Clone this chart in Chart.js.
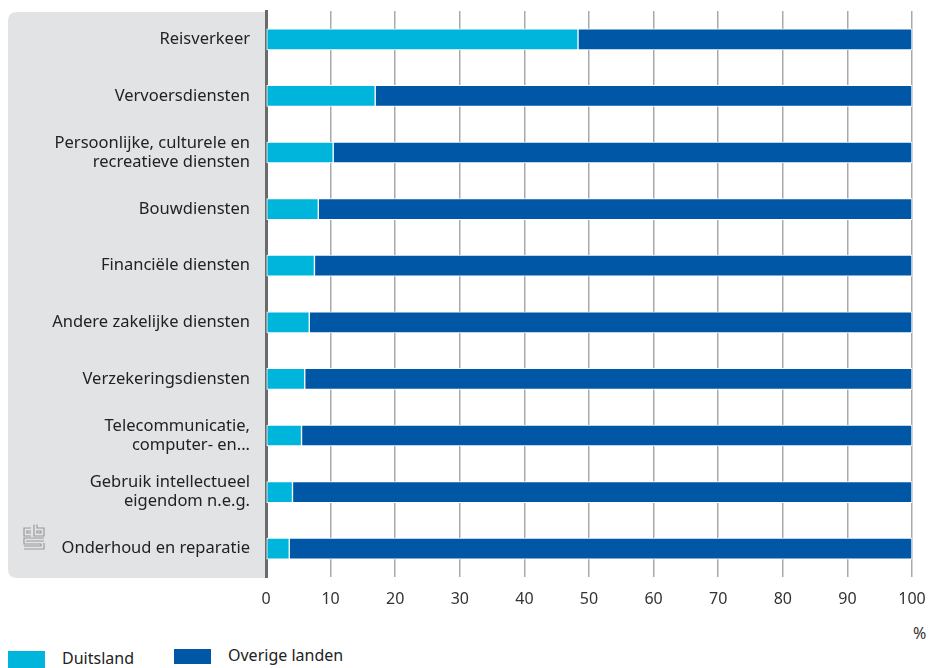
<!DOCTYPE html>
<html><head><meta charset="utf-8">
<script src="https://cdn.jsdelivr.net/npm/chart.js@4"></script>
<style>
html,body{margin:0;padding:0;background:#fff;width:929px;height:668px;overflow:hidden;font-family:"Noto Sans",sans-serif;}
#wrap{position:absolute;left:0;top:0;width:929px;height:620px;}
.lg{position:absolute;font-size:16px;color:#222;}
.box{position:absolute;}
</style></head><body>
<div id="wrap"><canvas id="c" width="929" height="620"></canvas></div>
<div class="lg" style="left:913px;top:622px;color:#333">%</div>
<div class="box" style="left:8px;top:651px;width:37px;height:20px;background:#00b5dc"></div>
<div class="lg" style="left:62px;top:647px;">Duitsland</div>
<div class="box" style="left:174px;top:649px;width:37px;height:15px;background:#0057a6"></div>
<div class="lg" style="left:228px;top:644px;">Overige landen</div>
<script>
const categories = [
  "Reisverkeer",
  "Vervoersdiensten",
  ["Persoonlijke, culturele en","recreatieve diensten"],
  "Bouwdiensten",
  "Financiële diensten",
  "Andere zakelijke diensten",
  "Verzekeringsdiensten",
  ["Telecommunicatie,","computer- en..."],
  ["Gebruik intellectueel","eigendom n.e.g."],
  "Onderhoud en reparatie"
];
const duitsland = [48.3, 16.9, 10.4, 8.1, 7.5, 6.7, 6.0, 5.5, 4.1, 3.6];
const overige = duitsland.map(v => +(100 - v).toFixed(1));
const seriesNames = ["Duitsland", "Overige landen"];
const xTicks = [0,10,20,30,40,50,60,70,80,90,100];

const bgPlugin = {
  id: 'bg',
  beforeDraw(chart) {
    const {ctx, chartArea: a} = chart;
    ctx.save();
    ctx.fillStyle = '#e2e3e5';
    const x0 = 8, y0 = 12, x1 = a.left, y1 = a.bottom + 1, r = 9;
    ctx.beginPath();
    ctx.moveTo(x0 + r, y0);
    ctx.lineTo(x1, y0);
    ctx.lineTo(x1, y1);
    ctx.lineTo(x0 + r, y1);
    ctx.quadraticCurveTo(x0, y1, x0, y1 - r);
    ctx.lineTo(x0, y0 + r);
    ctx.quadraticCurveTo(x0, y0, x0 + r, y0);
    ctx.fill();
    // logo
    ctx.strokeStyle = '#9a9a9a';
    ctx.lineWidth = 1.2;
    const lx = 23, ly = 524;
    ctx.beginPath();
    ctx.moveTo(lx + 8, ly + 4); ctx.lineTo(lx + 1, ly + 4); ctx.lineTo(lx + 1, ly + 12); ctx.lineTo(lx + 8, ly + 12);
    ctx.moveTo(lx + 8, ly + 7); ctx.lineTo(lx + 4, ly + 7); ctx.lineTo(lx + 4, ly + 9); ctx.lineTo(lx + 8, ly + 9);
    ctx.moveTo(lx + 11, ly + 0.5); ctx.lineTo(lx + 11, ly + 12); ctx.lineTo(lx + 21, ly + 12); ctx.lineTo(lx + 21, ly + 4); ctx.lineTo(lx + 14, ly + 4); ctx.lineTo(lx + 14, ly + 0.5);
    ctx.rect(lx + 14, ly + 7, 4, 2);
    ctx.moveTo(lx + 21, ly + 14); ctx.lineTo(lx + 1, ly + 14); ctx.lineTo(lx + 1, ly + 20); ctx.lineTo(lx + 18, ly + 20); ctx.lineTo(lx + 18, ly + 22); ctx.lineTo(lx + 1, ly + 22);
    ctx.moveTo(lx + 21, ly + 17); ctx.lineTo(lx + 4, ly + 17); ctx.lineTo(lx + 4, ly + 18);
    ctx.moveTo(lx + 1, ly + 25); ctx.lineTo(lx + 21, ly + 25); ctx.lineTo(lx + 21, ly + 19);
    ctx.stroke();
    ctx.restore();
  }
};

new Chart(document.getElementById('c'), {
  type: 'bar',
  data: {
    labels: categories,
    datasets: [
      { label: seriesNames[0], data: duitsland, backgroundColor: '#00b5dc', borderColor: '#ffffff', borderWidth: 1, borderSkipped: false, barThickness: 21 },
      { label: seriesNames[1], data: overige, backgroundColor: '#0057a6', borderColor: '#ffffff', borderWidth: 1, borderSkipped: false, barThickness: 21 }
    ]
  },
  options: {
    indexAxis: 'y',
    responsive: false,
    animation: false,
    layout: { padding: { left: 0, right: 17, top: 11, bottom: 0 } },
    plugins: { legend: { display: false }, tooltip: { enabled: false } },
    scales: {
      x: {
        stacked: true, min: 0, max: 100,
        afterBuildTicks(s) { s.ticks = xTicks.map(v => ({ value: v })); },
        afterFit(s) { s.height = 620 - 577; s.paddingLeft = 0; s.paddingRight = 0; },
        grid: { color: '#a9a9a9', lineWidth: 1.5, drawTicks: false },
        border: { display: false },
        ticks: { color: '#333', font: { family: 'Noto Sans', size: 16 }, padding: 13, maxRotation: 0 }
      },
      y: {
        stacked: true,
        afterFit(s) { s.width = 266; s.paddingTop = 0; s.paddingBottom = 0; },
        grid: { display: false, drawTicks: false },
        border: { display: true, color: '#6a6a6a', width: 3 },
        ticks: { color: '#222', font: { family: 'Noto Sans', size: 16.5, lineHeight: 1.15 }, padding: 16 }
      }
    }
  },
  plugins: [bgPlugin]
});
</script>
</body></html>
